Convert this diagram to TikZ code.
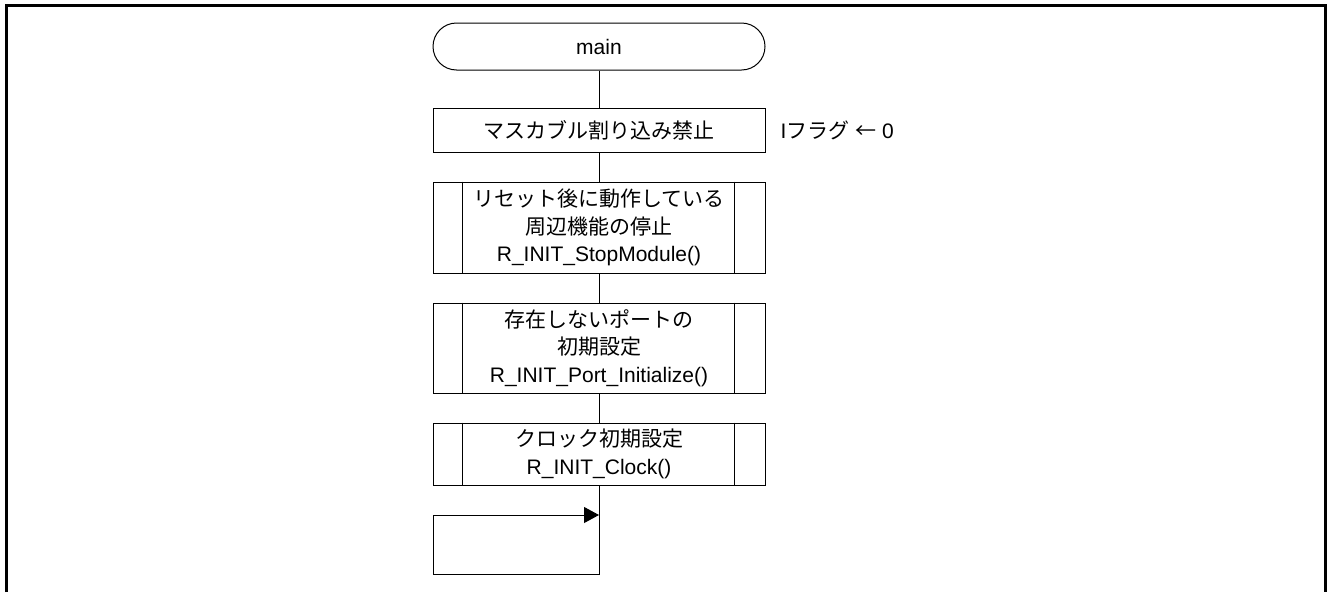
\documentclass[tikz,border=0pt]{standalone}
\usepackage{fontspec}
\setmainfont{Liberation Sans}
\newfontfamily\jp{Noto Sans CJK JP}
\usetikzlibrary{shapes.misc, arrows.meta}

\tikzset{
	px/.style={x=1pt, y=-1pt},
	flowbox/.style={draw, line width=1pt, minimum width=332pt, align=center, inner sep=0pt, font=\fontsize{21}{27.5}\selectfont},
	terminal/.style={flowbox, rounded rectangle, minimum height=47pt},
	callbox/.style={flowbox, minimum height=#1},
	flowline/.style={line width=1pt}
}

\begin{document}
\begin{tikzpicture}[px]
		\useasboundingbox (0,0) rectangle (1330,592);
	
		\draw [line width=3pt] (6.5,592) -- (6.5,5.5) -- (1325.5,5.5) -- (1325.5,592);
	
		\node [terminal] (main) at (599,46.5) {main};
		\node [callbox=44pt] (irq) at (599,130) {\jp マスカブル割り込み禁止};
		\node [anchor=west, font=\fontsize{21}{27.5}\selectfont] (iflag) at (777,130) {I{\jp フラグ} {\jp ←} 0};
		
		\node [callbox=91pt] (stop) at (599,227.5) {{\jp リセット後に動作している}\\{\jp 周辺機能の停止}\\R\_INIT\_StopModule()};
		\node [callbox=90pt] (port) at (599,348) {{\jp 存在しないポートの}\\{\jp 初期設定}\\R\_INIT\_Port\_Initialize()};
		\node [callbox=62pt] (clock) at (599,454) {{\jp クロック初期設定}\\R\_INIT\_Clock()};
		
		\foreach \n in {stop, port, clock}
		{
			\draw [flowline] ([xshift=30pt]\n.north west) -- ([xshift=30pt]\n.south west);
			\draw [flowline] ([xshift=-31pt]\n.north east) -- ([xshift=-31pt]\n.south east);
		}
		
		\draw [flowline] (main) -- (irq);
		\draw [flowline] (irq) -- (stop);
		\draw [flowline] (stop) -- (port);
		\draw [flowline] (port) -- (clock);
		
		\coordinate (loop end) at (599,574);
		\coordinate (loop left) at (433,574);
		\coordinate (loop top) at (433,515);
		\coordinate (loop join) at (599,515);
		
		\draw [flowline] (clock) -- (loop end) -- (loop left) -- (loop top);
		\draw [flowline, -{Triangle[length=15pt, width=16pt]}] (loop top) -- (loop join);
	
	\end{tikzpicture}
\end{document}
